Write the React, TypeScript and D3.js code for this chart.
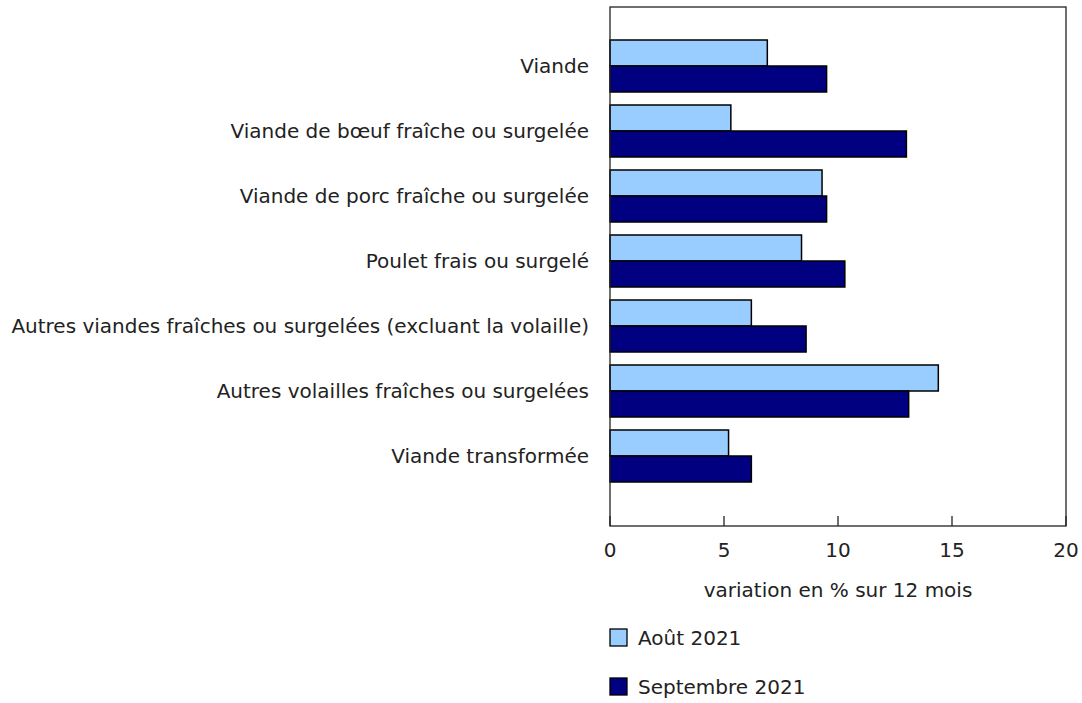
import React from 'react'
import * as d3 from 'd3'

const categories = [
  'Viande',
  'Viande de bœuf fraîche ou surgelée',
  'Viande de porc fraîche ou surgelée',
  'Poulet frais ou surgelé',
  'Autres viandes fraîches ou surgelées (excluant la volaille)',
  'Autres volailles fraîches ou surgelées',
  'Viande transformée',
]
const seriesNames = ['Août 2021', 'Septembre 2021']
const aout2021 = [6.9, 5.3, 9.3, 8.4, 6.2, 14.4, 5.2]
const septembre2021 = [9.5, 13.0, 9.5, 10.3, 8.6, 13.1, 6.2]
const xTicks = [0, 5, 10, 15, 20]
const colors = ['#99CCFF', '#000080']

const font = '"DejaVu Sans", Verdana, sans-serif'
const fs = 20

function App() {
  const W = 1082
  const H = 703
  const left = 610
  const right = 1066
  const top = 7
  const bottom = 526

  const x = d3.scaleLinear().domain([0, 20]).range([left, right])
  const y = d3.scaleBand().domain(categories).range([40, 482]).paddingInner(0.2).paddingOuter(0)
  const ySub = d3.scaleBand().domain(seriesNames).range([0, y.bandwidth()])
  const values = [aout2021, septembre2021]

  return (
    <svg width={W} height={H} style={{ position: 'absolute', left: 0, top: 0 }} fontFamily={font}>
      <rect x={0} y={0} width={W} height={H} fill="#fff" />
      {/* bars */}
      {categories.map((c, i) => (
        <g key={c}>
          {seriesNames.map((s, j) => (
            <rect
              key={s}
              x={x(0)}
              y={y(c)! + ySub(s)!}
              width={x(values[j][i]) - x(0)}
              height={ySub.bandwidth()}
              fill={colors[j]}
              stroke="#000"
              strokeWidth={1.5}
            />
          ))}
          <text x={589} y={y(c)! + y.bandwidth() / 2} textAnchor="end" dominantBaseline="central" fontSize={fs} fill="#222">
            {c}
          </text>
        </g>
      ))}
      {/* frame */}
      <rect x={left} y={top} width={right - left} height={bottom - top} fill="none" stroke="#222" strokeWidth={1.3} />
      {/* ticks */}
      {xTicks.map(t => (
        <g key={t}>
          <line x1={x(t)} x2={x(t)} y1={bottom - 10} y2={bottom} stroke="#222" strokeWidth={1.3} />
          <text x={x(t)} y={550} textAnchor="middle" dominantBaseline="central" fontSize={fs} fill="#222">
            {t}
          </text>
        </g>
      ))}
      <text x={(left + right) / 2} y={590} textAnchor="middle" dominantBaseline="central" fontSize={fs} fill="#222">
        variation en % sur 12 mois
      </text>
      {/* legend */}
      {seriesNames.map((s, j) => (
        <g key={s}>
          <rect x={610} y={629 + j * 49} width={17} height={17} fill={colors[j]} stroke="#000" strokeWidth={1.3} />
          <text x={638} y={637.5 + j * 49} dominantBaseline="central" fontSize={fs} fill="#222">
            {s}
          </text>
        </g>
      ))}
    </svg>
  )
}

export default App
